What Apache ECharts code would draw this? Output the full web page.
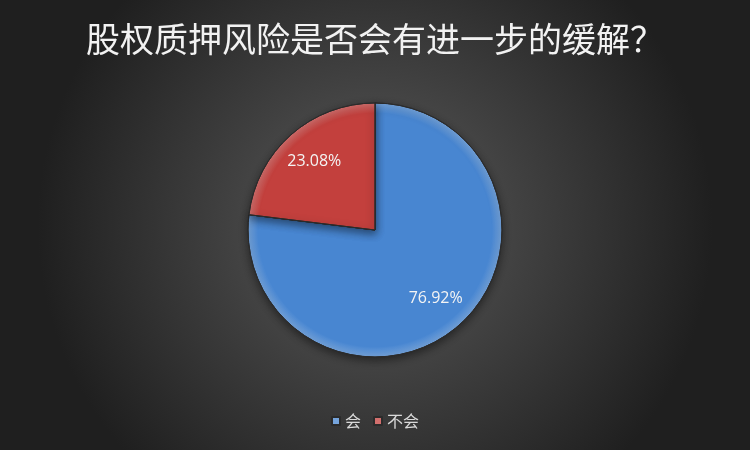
<!DOCTYPE html>
<html>
<head>
<meta charset="utf-8">
<script src="https://cdn.jsdelivr.net/npm/echarts@6/dist/echarts.min.js"></script>
<style>
  html, body { margin: 0; padding: 0; }
  #chart { width: 750px; height: 450px; }
</style>
</head>
<body>
<div id="chart"></div>
<script>
const categories = ['会', '不会']
const shares = [76.92, 23.08]
const colors = ['#4886d1', '#c3403d']

const chart = echarts.init(document.getElementById('chart'))

// bevel-like darkening toward the rim, in chart coordinates
const pieData = categories.map((name, i) => ({
  name: name,
  value: shares[i],
  itemStyle: {
    color: {
      type: 'radial', x: 375, y: 230, r: 127, global: true,
      colorStops: [
        { offset: 0, color: colors[i] },
        { offset: 0.92, color: colors[i] },
        { offset: 1, color: echarts.color.lift(colors[i], 0.25) }
      ]
    }
  }
}))

const option = {
  backgroundColor: {
    type: 'radial', x: 0.5, y: 0.5, r: 0.75,
    colorStops: [
      { offset: 0, color: '#5b5b5b' },
      { offset: 1, color: '#1f1f1f' }
    ]
  },
  title: {
    text: '股权质押风险是否会有进一步的缓解？',
    left: 'center',
    top: 17,
    textStyle: {
      color: '#f2f2f2',
      fontSize: 34,
      fontWeight: 'normal',
      fontFamily: 'Noto Sans CJK SC'
    }
  },
  legend: {
    data: categories,
    bottom: 16,
    left: 'center',
    itemWidth: 8,
    itemHeight: 8,
    itemGap: 12,
    icon: 'rect',
    textStyle: { color: '#d9d9d9', fontSize: 16, fontFamily: 'Noto Sans CJK SC' }
  },
  series: [
    {
      type: 'pie',
      center: [375, 230],
      radius: 127,
      startAngle: 90,
      clockwise: true,
      silent: true,
      label: { show: false },
      labelLine: { show: false },
      itemStyle: {
        borderColor: '#2b2b2b',
        borderWidth: 1,
        shadowColor: 'rgba(0,0,0,0.45)',
        shadowBlur: 8,
        shadowOffsetY: 3
      },
      data: pieData
    },
    {
      // transparent overlay used only to place labels further out
      type: 'pie',
      center: [375, 230],
      radius: [50, 127],
      startAngle: 90,
      clockwise: true,
      silent: true,
      legendHoverLink: false,
      itemStyle: { color: 'rgba(0,0,0,0)' },
      label: {
        show: true,
        position: 'inside',
        formatter: p => p.value.toFixed(2) + '%',
        color: '#f4f4f4',
        fontSize: 16,
        fontFamily: 'Open Sans'
      },
      labelLine: { show: false },
      data: categories.map((name, i) => ({ name: name, value: shares[i] }))
    }
  ]
}

chart.setOption(option)
</script>
</body>
</html>
